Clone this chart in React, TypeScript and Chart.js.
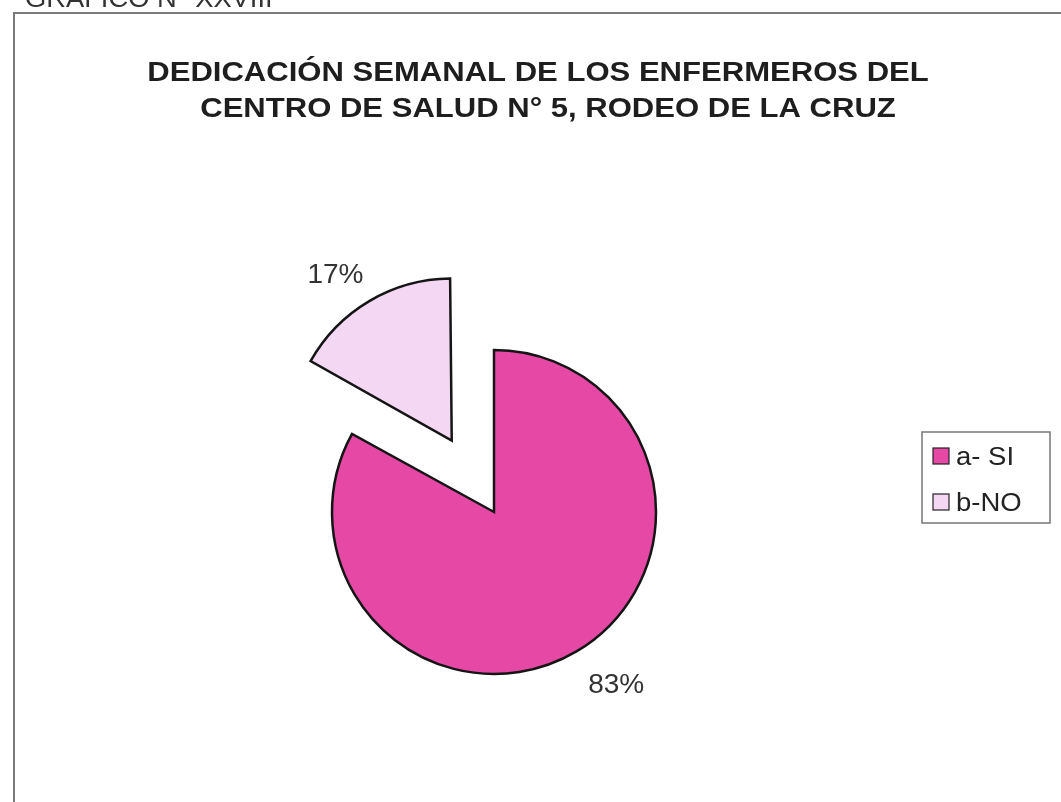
import React, { useEffect, useRef } from "react";
import { Chart, registerables } from "chart.js";

Chart.register(...registerables);

// ---- data ----
const categories = ["a- SI", "b-NO"];
const values = [83, 17];
const percentLabels = ["83%", "17%"];
const titleLines = [
  "DEDICACIÓN SEMANAL DE LOS ENFERMEROS DEL",
  "CENTRO DE SALUD N° 5, RODEO DE LA CRUZ",
];
const headerText = "GRAFICO N° XXVIII";

// ---- styles ----
const sliceColors = ["#E548A5", "#F4D7F2"];
const explodePx = [0, 83];
const FONT = '"Liberation Sans", Arial, sans-serif';

const frameAndTextPlugin = {
  id: "frameAndText",
  beforeDraw(chart: any) {
    const ctx = chart.ctx;
    ctx.save();
    ctx.fillStyle = "#ffffff";
    ctx.fillRect(0, 0, chart.width, chart.height);
    ctx.restore();
  },
  afterDatasetUpdate(chart: any) {
    // keep exploded slices at the same radius as the rest
    const meta = chart.getDatasetMeta(0);
    meta.data.forEach((arc: any) => {
      const off = ((arc.options && arc.options.offset) || 0) / 4;
      if (!off) return;
      const fix = 1 - Math.sin(Math.min(Math.PI, arc.circumference || 0));
      arc.outerRadius = arc.outerRadius - off * fix;
    });
  },
  afterDraw(chart: any) {
    const ctx = chart.ctx;
    ctx.save();
    // frame
    ctx.strokeStyle = "#7a7a7a";
    ctx.lineWidth = 2;
    ctx.beginPath();
    ctx.moveTo(14, chart.height);
    ctx.lineTo(14, 13);
    ctx.lineTo(chart.width, 13);
    ctx.stroke();

    // header cut at top
    ctx.fillStyle = "#333";
    ctx.font = `26px ${FONT}`;
    ctx.textAlign = "left";
    ctx.textBaseline = "alphabetic";
    ctx.save();
    ctx.translate(25, 7);
    ctx.scale(1.05, 1);
    ctx.fillText(headerText, 0, 0);
    ctx.restore();

    // title (slightly stretched horizontally like the scan)
    ctx.fillStyle = "#1e1e1e";
    ctx.font = `bold 27px ${FONT}`;
    ctx.textAlign = "center";
    const centers = [538, 548];
    const baselines = [81, 117];
    titleLines.forEach((t, i) => {
      ctx.save();
      ctx.translate(centers[i], baselines[i]);
      ctx.scale(1.15, 1);
      ctx.fillText(t, 0, 0);
      ctx.restore();
    });

    // percentage labels
    const meta = chart.getDatasetMeta(0);
    ctx.font = `28px ${FONT}`;
    ctx.fillStyle = "#333";
    ctx.textAlign = "center";
    ctx.textBaseline = "middle";
    meta.data.forEach((arc: any, i: number) => {
      const mid = (arc.startAngle + arc.endAngle) / 2;
      const off = ((arc.options && arc.options.offset) || 0) / 4;
      const cx = arc.x + Math.cos(mid) * off;
      const cy = arc.y + Math.sin(mid) * off;
      const a = mid - (4.6 * Math.PI) / 180;
      const r = arc.outerRadius + 50;
      ctx.fillText(percentLabels[i], cx + Math.cos(a) * r, cy + Math.sin(a) * r);
    });

    // legend box
    const lx = 922, ly = 432, lw = 128, lh = 91;
    ctx.strokeStyle = "#777";
    ctx.lineWidth = 1.5;
    ctx.strokeRect(lx, ly, lw, lh);
    ctx.font = `25px ${FONT}`;
    ctx.textAlign = "left";
    ctx.textBaseline = "alphabetic";
    categories.forEach((c, i) => {
      const sy = ly + 16 + i * 46;
      ctx.fillStyle = sliceColors[i];
      ctx.fillRect(lx + 11, sy, 16, 16);
      ctx.strokeStyle = "#222";
      ctx.lineWidth = 1.2;
      ctx.strokeRect(lx + 11, sy, 16, 16);
      ctx.fillStyle = "#222";
      ctx.save();
      ctx.translate(lx + 34, sy + 17);
      ctx.scale(1.1, 1);
      ctx.fillText(c, 0, 0);
      ctx.restore();
    });
    ctx.restore();
  },
};

export default function App() {
  const canvasRef = useRef<HTMLCanvasElement | null>(null);

  useEffect(() => {
    if (!canvasRef.current) return;
    const chart = new Chart(canvasRef.current, {
      type: "pie",
      data: {
        labels: categories,
        datasets: [
          {
            data: values,
            backgroundColor: sliceColors,
            borderColor: "#151515",
            borderWidth: 2.5,
            borderJoinStyle: "miter",
            offset: explodePx.map((e) => e * 4),
            radius: 162,
          } as any,
        ],
      },
      options: {
        responsive: false,
        maintainAspectRatio: false,
        animation: false,
        radius: 162,
        layout: { padding: { left: 0, right: 73, top: 222, bottom: 0 } },
        plugins: {
          legend: { display: false },
          tooltip: { enabled: false },
          title: { display: false },
        },
      } as any,
      plugins: [frameAndTextPlugin],
    });
    return () => chart.destroy();
  }, []);

  return (
    <div style={{ position: "absolute", left: 0, top: 0, width: 1061, height: 802, background: "#fff" }}>
      <canvas ref={canvasRef} width={1061} height={802} style={{ display: "block" }} />
    </div>
  );
}
